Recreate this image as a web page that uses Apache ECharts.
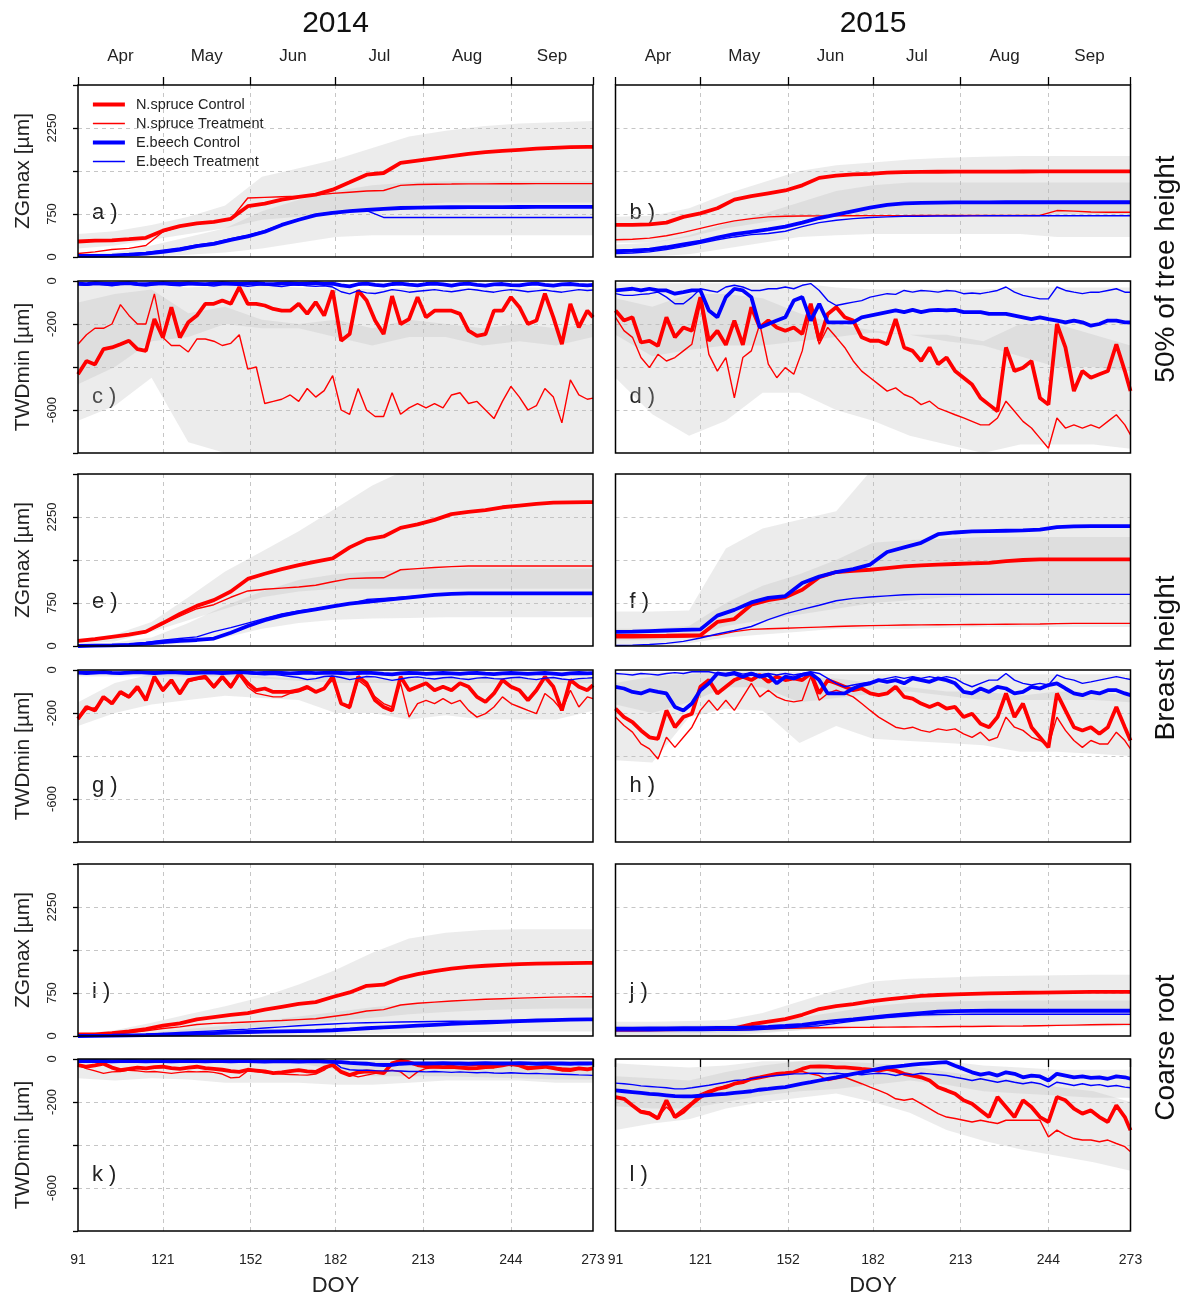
<!DOCTYPE html>
<html>
<head>
<meta charset="utf-8">
<script src="https://cdn.jsdelivr.net/npm/echarts@6/dist/echarts.min.js"></script>
<style>
  html, body { margin: 0; background: #fff; }
  #chart { width: 1187px; height: 1300px; }
</style>
</head>
<body>
<div id="chart"></div>
<script>
// ── x positions (day of year) ─────────────────────────────────────────────
const TWD_DAYS = [91,94,97,100,103,106,109,112,115,118,121,124,127,130,133,136,139,142,145,148,
  151,154,157,160,163,166,169,172,175,178,181,184,187,190,193,196,199,202,205,208,
  211,214,217,220,223,226,229,232,235,238,241,244,247,250,253,256,259,262,265,268,271,273];
const ZG_DAYS = [91,97,103,109,115,121,127,133,139,145,151,157,163,169,175,181,187,193,199,205,
  211,217,223,229,235,241,247,253,259,265,271,273];
const BAND_DAYS = [91,104,117,130,143,156,169,182,195,208,221,234,247,260,273];

const DOY_TICKS = [91, 121, 152, 182, 213, 244, 273];
const MONTHS = ['Apr', 'May', 'Jun', 'Jul', 'Aug', 'Sep'];
const MONTH_MID = [106, 136.5, 167, 197.5, 228.5, 258.5];
const ZG_LABELS = [0, 750, 2250];
const TWD_LABELS = [0, -200, -600];

const SERIES_NAMES = ['N.spruce Control', 'N.spruce Treatment', 'E.beech Control', 'E.beech Treatment'];
const YEARS = ['2014', '2015'];
const POSITIONS = ['50% of tree height', 'Breast height', 'Coarse root'];

// ── a) ZGmax 2014, 50% height ─────────────────────────────────────────────
const a_spruceC = [270,285,290,310,335,460,538,585,614,666,886,932,1002,1048,1088,1175,1303,1436,1465,1640,1680,1720,1760,1800,1830,1850,1870,1890,1905,1915,1920,1920];
const a_spruceT = [60,90,130,150,200,440,530,580,610,660,1030,1040,1050,1060,1080,1110,1130,1150,1160,1250,1265,1270,1272,1275,1276,1277,1278,1279,1280,1280,1280,1280];
const a_beechC = [20,20,25,40,60,90,130,190,230,300,360,440,560,650,730,770,800,820,840,855,862,866,868,870,870,871,872,873,874,875,875,875];
const a_beechT = [15,20,25,50,80,120,160,210,250,320,380,460,570,660,740,780,800,810,690,690,690,690,690,690,690,690,690,690,690,690,690,690];
const a_bandS_hi = [400,450,560,700,900,1400,1550,1700,1900,2100,2200,2280,2330,2350,2370];
const a_bandS_lo = [150,200,300,400,500,650,700,800,850,900,950,950,950,950,950];
const a_bandB_hi = [60,80,200,350,500,800,1000,1150,1250,1300,1320,1320,1320,1320,1320];
const a_bandB_lo = [0,0,10,40,80,150,250,350,380,380,380,380,380,380,380];

// ── b) ZGmax 2015, 50% height ─────────────────────────────────────────────
const b_spruceC = [560,560,570,600,700,760,850,1000,1060,1110,1160,1250,1380,1420,1440,1450,1470,1480,1485,1487,1488,1489,1490,1490,1491,1492,1493,1494,1495,1495,1495,1495];
const b_spruceT = [300,310,330,370,430,500,570,630,670,700,710,715,718,720,720,721,722,722,723,723,724,724,725,725,725,725,810,800,785,780,780,780];
const b_beechC = [100,110,130,170,220,270,340,400,440,480,530,600,680,740,800,860,910,935,945,950,952,953,954,955,955,955,955,955,955,955,955,955];
const b_beechT = [60,70,90,130,180,240,300,350,390,410,450,530,600,640,670,690,700,710,712,714,716,718,719,720,720,720,720,720,720,720,720,720];
const b_bandS_hi = [700,720,850,1100,1300,1500,1600,1650,1700,1730,1750,1760,1760,1760,1760];
const b_bandS_lo = [250,250,350,500,600,700,750,750,750,750,750,750,750,750,750];
const b_bandB_hi = [220,250,380,580,750,950,1150,1250,1300,1300,1300,1300,1300,1300,1300];
const b_bandB_lo = [0,10,50,150,250,350,380,400,400,400,400,400,350,350,350];

// ── c) TWDmin 2014, 50% height ────────────────────────────────────────────
const c_spruceC = [-434,-372,-388,-317,-309,-294,-278,-317,-325,-177,-263,-122,-263,-192,-161,-106,-106,-91,-106,-28,
  -106,-106,-114,-130,-138,-138,-106,-153,-98,-161,-44,-278,-247,-44,-91,-184,-247,-70,-200,-177,
  -75,-169,-138,-138,-138,-153,-231,-255,-247,-138,-138,-75,-122,-200,-184,-59,-169,-294,-106,-216,-138,-169];
const c_spruceT = [-294,-250,-220,-220,-200,-110,-160,-200,-200,-60,-263,-300,-300,-330,-270,-270,-280,-300,-290,-250,
  -410,-400,-570,-560,-550,-530,-560,-500,-540,-510,-440,-600,-620,-500,-600,-630,-630,-520,-620,-590,
  -570,-590,-570,-590,-530,-520,-570,-560,-600,-640,-560,-490,-540,-600,-580,-500,-540,-660,-460,-530,-550,-545];
const c_beechC = [-12,-15,-10,-12,-14,-11,-10,-13,-15,-12,-10,-12,-14,-11,-13,-15,-12,-10,-12,-14,
  -12,-10,-13,-15,-12,-11,-14,-12,-10,-13,-12,-20,-25,-15,-12,-18,-22,-14,-12,-17,
  -20,-14,-12,-16,-21,-15,-12,-18,-22,-16,-14,-19,-20,-15,-12,-18,-22,-16,-14,-18,-20,-18];
const c_beechT = [-18,-20,-15,-18,-22,-16,-14,-20,-24,-18,-15,-20,-22,-17,-15,-19,-23,-18,-16,-20,
  -25,-20,-18,-22,-26,-20,-18,-22,-25,-22,-28,-50,-60,-45,-55,-58,-50,-40,-45,-52,
  -48,-44,-40,-46,-50,-44,-38,-42,-48,-52,-45,-40,-44,-50,-46,-42,-48,-52,-46,-40,-44,-42];
const c_bandS_hi = [-100,-60,-40,-150,-120,-180,-200,-180,-220,-180,-200,-220,-200,-220,-200];
const c_bandS_lo = [-650,-580,-450,-750,-800,-800,-800,-800,-800,-800,-800,-800,-800,-800,-800];
const c_bandB_hi = [-20,-20,-20,-30,-20,-20,-30,-30,-40,-30,-30,-30,-30,-30,-30];
const c_bandB_lo = [-480,-400,-280,-260,-200,-220,-220,-260,-300,-260,-260,-300,-280,-300,-260];

// ── d) TWDmin 2015, 50% height ────────────────────────────────────────────
const d_spruceC = [-137,-184,-169,-286,-278,-302,-169,-262,-216,-231,-75,-278,-231,-297,-184,-297,-122,-216,-184,-216,
  -231,-216,-247,-106,-278,-153,-122,-169,-184,-262,-278,-278,-294,-177,-309,-325,-372,-309,-387,-356,
  -419,-450,-481,-544,-575,-606,-309,-419,-403,-372,-544,-575,-200,-309,-512,-419,-450,-434,-419,-294,-419,-512];
const d_spruceT = [-169,-231,-262,-356,-403,-341,-372,-356,-325,-294,-106,-341,-419,-356,-544,-356,-325,-200,-387,-450,
  -403,-434,-325,-137,-294,-216,-262,-309,-372,-419,-450,-481,-512,-497,-528,-544,-575,-559,-591,-606,
  -622,-637,-653,-669,-669,-637,-559,-606,-653,-684,-731,-778,-637,-684,-669,-684,-669,-684,-653,-622,-669,-716];
const d_beechC = [-44,-40,-36,-44,-36,-44,-44,-59,-52,-44,-44,-137,-169,-75,-36,-44,-75,-216,-200,-184,
  -169,-91,-75,-184,-106,-192,-192,-192,-192,-169,-161,-153,-145,-137,-145,-134,-145,-137,-134,-137,
  -134,-145,-145,-145,-153,-153,-153,-161,-169,-177,-169,-177,-184,-192,-184,-192,-208,-200,-184,-184,-192,-192];
const d_beechT = [-59,-67,-67,-62,-59,-52,-75,-106,-106,-75,-36,-44,-52,-28,-20,-28,-44,-44,-36,-36,
  -28,-36,-20,-12,-44,-91,-114,-106,-98,-91,-75,-67,-59,-62,-44,-52,-44,-47,-52,-44,
  -47,-59,-56,-59,-52,-44,-28,-52,-67,-75,-83,-83,-28,-44,-52,-59,-52,-52,-44,-36,-52,-52];
const d_bandS_hi = [-80,-120,-60,-60,-80,-150,-200,-230,-250,-250,-280,-200,-200,-250,-300];
const d_bandS_lo = [-450,-620,-720,-650,-520,-520,-600,-650,-720,-760,-800,-760,-760,-760,-780];
const d_bandB_hi = [-10,-10,-10,-10,-10,-10,-30,-40,-40,-40,-40,-30,-30,-30,-30];
const d_bandB_lo = [-250,-350,-320,-300,-300,-280,-260,-240,-250,-280,-300,-350,-400,-400,-420];

// ── e) ZGmax 2014, breast height ──────────────────────────────────────────
const e_spruceC = [90,120,160,200,250,400,560,700,800,950,1170,1260,1340,1410,1470,1530,1720,1860,1910,2060,2120,2200,2300,2340,2370,2420,2450,2480,2500,2505,2510,2510];
const e_spruceT = [80,110,150,190,240,380,520,650,720,850,960,990,1010,1030,1060,1120,1175,1185,1190,1330,1350,1370,1385,1395,1395,1395,1395,1395,1395,1395,1395,1395];
const e_beechC = [0,5,10,20,40,70,90,105,130,230,350,450,530,590,640,690,740,770,800,830,860,890,910,918,918,918,918,918,918,918,918,918];
const e_beechT = [0,5,15,30,60,100,130,160,250,320,400,480,560,610,650,700,740,810,830,850,870,890,905,915,915,915,915,915,915,915,915,915];
const e_bandS_hi = [120,200,420,850,1300,1650,2000,2400,2800,3100,3100,3100,3100,3100,3100];
const e_bandS_lo = [40,80,250,450,650,850,950,1000,1000,1000,1000,1000,1000,1000,1000];
const e_bandB_hi = [30,60,150,400,700,950,1150,1250,1300,1330,1350,1350,1350,1350,1350];
const e_bandB_lo = [0,0,10,50,150,300,400,460,480,490,500,500,500,500,500];

// ── f) ZGmax 2015, breast height ──────────────────────────────────────────
const f_spruceC = [175,175,178,180,183,186,420,470,720,800,850,980,1200,1290,1310,1330,1360,1390,1405,1420,1430,1440,1450,1480,1500,1510,1510,1510,1510,1510,1510,1510];
const f_spruceT = [145,145,148,150,155,165,190,250,290,300,310,320,330,340,350,355,360,365,368,370,372,375,377,380,382,385,390,395,395,395,395,395];
const f_beechC = [245,250,260,270,280,290,530,630,760,840,870,1100,1210,1290,1340,1420,1640,1720,1800,1950,1980,2000,2005,2010,2015,2030,2075,2085,2090,2090,2090,2090];
const f_beechT = [10,15,25,45,80,140,210,270,340,460,560,640,710,790,830,855,875,895,900,900,900,900,900,900,900,900,900,900,900,900,900,900];
const f_bandS_hi = [600,600,620,1700,2050,2200,2350,3100,3100,3100,3100,3100,3100,3100,3100];
const f_bandS_lo = [100,100,150,350,450,550,650,750,800,850,880,900,900,900,900];
const f_bandB_hi = [300,300,350,750,1050,1250,1500,1800,1850,1870,1900,1900,1900,1900,1900];
const f_bandB_lo = [0,0,50,150,200,250,300,300,300,320,330,330,330,330,330];

// ── g) TWDmin 2014, breast height ─────────────────────────────────────────
const g_spruceC = [-227,-172,-188,-125,-156,-102,-125,-78,-141,-31,-94,-47,-109,-47,-39,-31,-78,-31,-78,-16,
  -62,-94,-86,-102,-102,-102,-94,-78,-102,-86,-31,-156,-172,-31,-62,-141,-172,-188,-31,-94,
  -78,-62,-94,-78,-94,-62,-78,-125,-148,-109,-47,-78,-94,-141,-94,-31,-78,-188,-47,-78,-94,-70];
const g_spruceT = [-230,-185,-175,-135,-150,-110,-130,-90,-135,-40,-100,-55,-115,-55,-45,-40,-85,-40,-85,-25,
  -80,-109,-117,-125,-125,-109,-102,-86,-102,-86,-47,-156,-180,-47,-78,-125,-156,-172,-62,-219,
  -156,-141,-156,-133,-156,-141,-188,-219,-203,-172,-125,-156,-172,-188,-203,-109,-141,-188,-94,-172,-125,-133];
const g_beechC = [-12,-14,-12,-10,-13,-15,-12,-10,-12,-14,-12,-10,-12,-14,-13,-11,-12,-14,-12,-10,
  -12,-15,-13,-12,-14,-16,-14,-12,-15,-13,-12,-14,-16,-14,-12,-15,-18,-20,-16,-14,
  -15,-18,-16,-14,-16,-18,-15,-14,-17,-19,-16,-14,-16,-18,-16,-14,-17,-20,-16,-14,-16,-15];
const g_beechT = [-14,-16,-14,-12,-15,-17,-14,-12,-14,-16,-14,-12,-14,-16,-15,-13,-14,-16,-14,-12,
  -15,-20,-22,-20,-25,-30,-35,-45,-40,-30,-28,-35,-45,-38,-30,-32,-40,-48,-42,-35,
  -32,-38,-42,-36,-34,-40,-44,-38,-35,-40,-42,-36,-34,-40,-45,-38,-35,-42,-46,-40,-38,-36];
const g_bandS_hi = [-150,-60,-20,-20,-10,-30,-40,-20,-40,-40,-40,-30,-40,-40,-40];
const g_bandS_lo = [-260,-200,-160,-140,-120,-130,-140,-200,-200,-230,-210,-230,-230,-230,-190];
const g_bandB_hi = [-5,-5,-5,-5,-5,-5,-5,-5,-5,-5,-5,-5,-5,-5,-5];
const g_bandB_lo = [-30,-30,-30,-30,-30,-40,-50,-60,-60,-60,-60,-60,-60,-60,-60];

// ── h) TWDmin 2015, breast height ─────────────────────────────────────────
const h_spruceC = [-180,-219,-242,-281,-313,-320,-188,-266,-219,-203,-78,-47,-109,-78,-47,-31,-47,-23,-55,-31,
  -47,-39,-47,-16,-109,-47,-62,-78,-94,-86,-109,-117,-109,-78,-125,-133,-156,-172,-156,-180,
  -172,-219,-203,-250,-266,-219,-109,-219,-156,-266,-313,-360,-109,-188,-266,-281,-266,-297,-266,-172,-266,-328];
const h_spruceT = [-219,-258,-289,-344,-367,-414,-313,-360,-313,-266,-188,-141,-188,-141,-188,-125,-62,-125,-94,-125,
  -141,-148,-141,-31,-141,-109,-94,-109,-125,-156,-188,-219,-242,-266,-274,-266,-281,-289,-274,-281,
  -274,-297,-313,-289,-328,-313,-219,-266,-281,-313,-328,-352,-219,-281,-328,-360,-328,-344,-344,-289,-328,-367];
const h_beechC = [-78,-86,-102,-109,-94,-102,-109,-172,-188,-156,-94,-62,-16,-23,-16,-31,-16,-31,-23,-62,
  -31,-39,-23,-16,-47,-109,-109,-109,-86,-70,-62,-47,-55,-47,-62,-39,-47,-55,-39,-47,
  -62,-102,-109,-86,-102,-78,-86,-109,-102,-78,-86,-70,-62,-86,-109,-117,-102,-109,-94,-94,-109,-117];
const h_beechT = [-16,-19,-23,-16,-19,-23,-16,-12,-16,-8,-8,-8,-16,-16,-8,-19,-12,-23,-16,-23,
  -16,-23,-16,-8,-16,-39,-62,-78,-70,-62,-55,-47,-39,-31,-39,-31,-39,-31,-39,-31,
  -39,-62,-78,-62,-47,-47,-16,-47,-62,-70,-62,-70,-23,-39,-47,-62,-55,-47,-39,-31,-39,-44];
const h_bandS_hi = [-60,-30,-20,-10,-10,-30,-40,-60,-80,-100,-100,-120,-100,-100,-120];
const h_bandS_lo = [-420,-430,-220,-180,-190,-340,-260,-320,-330,-340,-350,-380,-380,-390,-400];
const h_bandB_hi = [-10,-10,-10,-5,-5,-10,-20,-20,-20,-20,-20,-20,-20,-20,-20];
const h_bandB_lo = [-160,-200,-150,-80,-80,-150,-130,-110,-100,-120,-140,-140,-140,-140,-150];

// ── i) ZGmax 2014, coarse root ────────────────────────────────────────────
const i_spruceC = [30,30,50,80,120,180,220,290,330,370,400,460,510,560,590,680,760,875,895,1010,1080,1130,1175,1205,1225,1240,1255,1262,1268,1272,1276,1276];
const i_spruceT = [15,20,35,55,90,130,160,200,220,230,245,260,270,285,300,340,380,435,460,540,570,590,610,625,640,650,660,670,678,682,684,684];
const i_beechC = [0,2,5,10,15,25,30,40,50,60,70,75,80,85,90,100,115,135,150,165,180,195,210,225,235,245,260,270,278,284,290,290];
const i_beechT = [0,5,10,20,30,45,60,75,90,105,120,140,160,180,195,210,225,232,238,243,248,252,256,260,265,270,275,280,284,287,290,290];
const i_bandS_hi = [30,100,230,380,520,680,900,1150,1450,1700,1800,1850,1860,1860,1860];
const i_bandS_lo = [0,10,40,80,120,160,200,260,320,380,420,450,470,480,480];
const i_bandB_hi = [10,20,60,120,180,260,340,420,500,560,600,620,640,650,650];
const i_bandB_lo = [0,0,0,0,0,10,20,30,40,50,60,70,80,80,80];

// ── j) ZGmax 2015, coarse root ────────────────────────────────────────────
const j_spruceC = [115,115,117,118,120,122,125,133,205,250,295,370,470,520,555,605,640,670,700,715,725,735,742,748,754,758,762,765,768,770,771,771];
const j_spruceT = [90,92,95,98,100,103,106,110,115,125,135,140,145,148,150,152,155,158,160,162,165,167,170,172,175,180,185,190,195,200,203,203];
const j_beechC = [130,130,132,134,136,138,140,142,148,160,175,195,235,265,290,320,350,375,400,425,435,438,440,440,440,440,440,440,440,440,440,440];
const j_beechT = [90,90,92,93,95,96,98,100,105,120,140,160,180,220,260,290,320,345,365,375,378,380,380,380,380,380,380,380,380,380,380,380];
const j_bandS_hi = [250,250,260,280,400,600,800,950,1000,1020,1040,1050,1060,1070,1070];
const j_bandS_lo = [0,0,0,10,50,100,200,280,320,350,360,370,370,370,370];
const j_bandB_hi = [180,180,185,190,230,320,420,520,580,600,610,620,620,620,620];
const j_bandB_lo = [50,50,50,60,80,100,120,150,160,170,170,170,170,170,170];

// ── k) TWDmin 2014, coarse root ───────────────────────────────────────────
const k_spruceC = [-28,-36,-30,-22,-40,-52,-46,-40,-44,-38,-36,-42,-46,-40,-36,-42,-46,-50,-56,-60,
  -50,-54,-58,-66,-62,-56,-52,-58,-60,-40,-28,-60,-75,-62,-58,-60,-66,-20,-8,-15,
  -28,-34,-36,-38,-36,-40,-44,-42,-38,-36,-30,-22,-30,-44,-40,-36,-42,-50,-52,-44,-48,-44];
const k_spruceT = [-28,-45,-55,-67,-60,-58,-52,-55,-60,-58,-62,-67,-62,-58,-60,-58,-62,-70,-88,-85,
  -55,-58,-64,-67,-70,-72,-74,-75,-70,-52,-22,-60,-72,-83,-75,-67,-60,-52,-60,-91,
  -60,-44,-40,-38,-36,-35,-32,-30,-28,-30,-28,-30,-32,-35,-36,-34,-38,-42,-44,-42,-44,-46];
const k_beechC = [-10,-10,-9,-10,-11,-10,-9,-10,-11,-10,-10,-11,-10,-9,-10,-11,-10,-10,-11,-10,
  -10,-11,-12,-11,-10,-11,-12,-11,-10,-12,-13,-15,-18,-20,-22,-26,-28,-27,-22,-20,
  -20,-21,-20,-19,-20,-21,-22,-20,-19,-20,-21,-20,-19,-20,-22,-21,-20,-21,-22,-20,-21,-20];
const k_beechT = [-5,-6,-5,-4,-5,-6,-5,-5,-6,-5,-5,-4,-5,-6,-5,-5,-6,-5,-4,-5,
  -6,-5,-5,-6,-5,-4,-5,-6,-5,-6,-10,-40,-50,-52,-52,-54,-55,-55,-56,-58,
  -58,-60,-58,-60,-62,-60,-62,-64,-62,-65,-66,-64,-66,-68,-67,-69,-70,-71,-72,-74,-75,-76];
const k_bandS_hi = [-5,-5,-5,-5,-5,-5,-5,-5,-5,-5,-5,-5,-5,-5,-5];
const k_bandS_lo = [-90,-100,-90,-95,-110,-110,-110,-120,-120,-110,-100,-100,-100,-110,-110];
const k_bandB_hi = [-2,-2,-2,-2,-2,-2,-2,-5,-10,-10,-10,-10,-10,-10,-10];
const k_bandB_lo = [-20,-20,-20,-20,-20,-20,-20,-50,-80,-80,-80,-85,-90,-95,-95];

// ── l) TWDmin 2015, coarse root ───────────────────────────────────────────
const l_spruceC = [-177,-185,-216,-246,-254,-277,-192,-270,-246,-208,-177,-154,-139,-131,-115,-108,-92,-85,-77,-69,
  -66,-62,-46,-35,-34,-35,-39,-39,-42,-46,-49,-54,-46,-54,-69,-77,-85,-100,-131,-146,
  -162,-192,-208,-239,-270,-177,-223,-270,-192,-223,-270,-293,-177,-192,-231,-254,-239,-270,-293,-216,-270,-331];
const l_spruceT = [-177,-185,-216,-239,-246,-270,-223,-262,-231,-200,-162,-146,-139,-123,-115,-100,-92,-85,-77,-73,
  -69,-62,-58,-69,-77,-100,-92,-85,-100,-115,-131,-146,-162,-185,-192,-185,-208,-231,-254,-270,
  -277,-285,-293,-285,-293,-300,-285,-285,-285,-285,-285,-362,-331,-354,-370,-377,-377,-385,-377,-393,-408,-431];
const l_beechC = [-146,-150,-154,-158,-162,-165,-169,-173,-174,-174,-171,-168,-165,-162,-158,-154,-150,-143,-139,-134,
  -131,-123,-115,-108,-100,-92,-85,-77,-69,-62,-54,-46,-39,-35,-31,-26,-23,-20,-17,-15,
  -31,-46,-62,-73,-66,-77,-62,-69,-85,-77,-81,-100,-69,-77,-85,-81,-88,-85,-92,-81,-85,-92];
const l_beechT = [-112,-115,-119,-125,-128,-131,-134,-139,-139,-134,-128,-122,-115,-108,-100,-97,-92,-85,-81,-77,
  -73,-69,-69,-66,-66,-69,-66,-69,-69,-73,-69,-66,-69,-77,-69,-73,-66,-69,-73,-77,
  -85,-92,-100,-92,-100,-108,-100,-108,-115,-108,-115,-131,-108,-115,-123,-115,-123,-119,-128,-123,-131,-134];
const l_bandS_hi = [-20,-30,-40,-30,-10,-10,-10,-20,-30,-60,-80,-100,-130,-150,-200];
const l_bandS_lo = [-330,-300,-280,-230,-200,-180,-160,-200,-250,-330,-380,-420,-450,-480,-520];
const l_bandB_hi = [-80,-90,-100,-60,-30,-10,-5,-5,-5,-10,-30,-40,-50,-50,-50];
const l_bandB_lo = [-220,-230,-230,-200,-170,-150,-140,-120,-100,-120,-150,-160,-170,-180,-180];

// ── panel list, in reading order (row by row, 2014 left, 2015 right) ─────
const PANELS = [
  { id: 'a', kind: 'zg',  lines: [a_spruceC, a_spruceT, a_beechC, a_beechT], bands: [[a_bandS_lo, a_bandS_hi], [a_bandB_lo, a_bandB_hi]] },
  { id: 'b', kind: 'zg',  lines: [b_spruceC, b_spruceT, b_beechC, b_beechT], bands: [[b_bandS_lo, b_bandS_hi], [b_bandB_lo, b_bandB_hi]] },
  { id: 'c', kind: 'twd', lines: [c_spruceC, c_spruceT, c_beechC, c_beechT], bands: [[c_bandS_lo, c_bandS_hi], [c_bandB_lo, c_bandB_hi]] },
  { id: 'd', kind: 'twd', lines: [d_spruceC, d_spruceT, d_beechC, d_beechT], bands: [[d_bandS_lo, d_bandS_hi], [d_bandB_lo, d_bandB_hi]] },
  { id: 'e', kind: 'zg',  lines: [e_spruceC, e_spruceT, e_beechC, e_beechT], bands: [[e_bandS_lo, e_bandS_hi], [e_bandB_lo, e_bandB_hi]] },
  { id: 'f', kind: 'zg',  lines: [f_spruceC, f_spruceT, f_beechC, f_beechT], bands: [[f_bandS_lo, f_bandS_hi], [f_bandB_lo, f_bandB_hi]] },
  { id: 'g', kind: 'twd', lines: [g_spruceC, g_spruceT, g_beechC, g_beechT], bands: [[g_bandS_lo, g_bandS_hi], [g_bandB_lo, g_bandB_hi]] },
  { id: 'h', kind: 'twd', lines: [h_spruceC, h_spruceT, h_beechC, h_beechT], bands: [[h_bandS_lo, h_bandS_hi], [h_bandB_lo, h_bandB_hi]] },
  { id: 'i', kind: 'zg',  lines: [i_spruceC, i_spruceT, i_beechC, i_beechT], bands: [[i_bandS_lo, i_bandS_hi], [i_bandB_lo, i_bandB_hi]] },
  { id: 'j', kind: 'zg',  lines: [j_spruceC, j_spruceT, j_beechC, j_beechT], bands: [[j_bandS_lo, j_bandS_hi], [j_bandB_lo, j_bandB_hi]] },
  { id: 'k', kind: 'twd', lines: [k_spruceC, k_spruceT, k_beechC, k_beechT], bands: [[k_bandS_lo, k_bandS_hi], [k_bandB_lo, k_bandB_hi]] },
  { id: 'l', kind: 'twd', lines: [l_spruceC, l_spruceT, l_beechC, l_beechT], bands: [[l_bandS_lo, l_bandS_hi], [l_bandB_lo, l_bandB_hi]] }
];

// ── layout & style ────────────────────────────────────────────────────────
const ROW_TOPS = [85, 281, 474, 670, 864, 1059];
const COL_LEFTS = [78, 615.5];
const PANEL_W = 515;
const PANEL_H = 172;
const FONT = '"Liberation Sans", Arial, sans-serif';
const LINE_COLORS = ['#ff0000', '#ff0000', '#0000ff', '#0000ff'];
const LINE_WIDTHS = [3.8, 1.4, 3.8, 1.4];
const BAND_COLOR = 'rgba(185,185,185,0.28)';
const GRID_LINE = { color: '#c6c6c6', type: [4, 4], width: 1 };

function pairs(xs, ys) {
  return ys.map((y, k) => [xs[k], y]);
}

const grids = [];
const xAxes = [];
const yAxes = [];
const series = [];
const graphics = [];

PANELS.forEach((p, i) => {
  const row = Math.floor(i / 2);
  const col = i % 2;
  const isZG = p.kind === 'zg';
  const bottomRow = row === 5;
  const leftCol = col === 0;

  grids.push({ left: COL_LEFTS[col], top: ROW_TOPS[row], width: PANEL_W, height: PANEL_H });

  xAxes.push({
    type: 'value', gridIndex: i, min: 91, max: 273,
    axisLine: { show: false },
    axisTick: { show: bottomRow, customValues: DOY_TICKS, length: 8, lineStyle: { color: '#000', width: 1.3 } },
    axisLabel: { show: bottomRow, customValues: DOY_TICKS, fontSize: 14, color: '#222', margin: 22, fontFamily: FONT },
    splitLine: { show: true, showMinLine: false, showMaxLine: false, lineStyle: GRID_LINE },
    name: bottomRow ? 'DOY' : '', nameLocation: 'middle', nameGap: 44,
    nameTextStyle: { fontSize: 22, color: '#222', fontFamily: FONT }
  });

  yAxes.push({
    type: 'value', gridIndex: i,
    min: isZG ? 0 : -800, max: isZG ? 3000 : 0, interval: isZG ? 750 : 200,
    axisLine: { show: false },
    axisTick: { show: leftCol, length: 5, lineStyle: { color: '#000', width: 1.3 } },
    axisLabel: {
      show: leftCol, customValues: isZG ? ZG_LABELS : TWD_LABELS,
      rotate: 90, fontSize: 13, color: '#222', margin: 19, fontFamily: FONT,
      formatter: v => String(v)
    },
    splitLine: { show: true, showMinLine: false, showMaxLine: false, lineStyle: GRID_LINE },
    name: leftCol ? (isZG ? 'ZGmax [\u00b5m]' : 'TWDmin [\u00b5m]') : '',
    nameLocation: 'middle', nameRotate: 90, nameGap: 44,
    nameTextStyle: { fontSize: 21, color: '#222', fontFamily: FONT }
  });

  // gray bands: invisible lower edge + stacked difference, filled.
  // rows are [value, doy] so that the stacked dimension is the y value.
  p.bands.forEach(([lo, hi], k) => {
    const stack = 'band' + i + '_' + k;
    series.push({
      type: 'line', xAxisIndex: i, yAxisIndex: i, stack, stackStrategy: 'all',
      encode: { x: 1, y: 0 },
      data: lo.map((v, n) => [v, BAND_DAYS[n]]), symbol: 'none', lineStyle: { opacity: 0 },
      silent: true, z: 1
    });
    series.push({
      type: 'line', xAxisIndex: i, yAxisIndex: i, stack, stackStrategy: 'all',
      encode: { x: 1, y: 0 },
      data: hi.map((h, n) => [h - lo[n], BAND_DAYS[n]]), symbol: 'none',
      lineStyle: { opacity: 0 }, areaStyle: { color: BAND_COLOR, opacity: 1 },
      silent: true, z: 1
    });
  });

  const days = isZG ? ZG_DAYS : TWD_DAYS;
  p.lines.forEach((vals, k) => {
    series.push({
      name: SERIES_NAMES[k], type: 'line', xAxisIndex: i, yAxisIndex: i,
      data: pairs(days, vals), symbol: 'none', silent: true, z: 3,
      lineStyle: { color: LINE_COLORS[k], width: LINE_WIDTHS[k] },
      itemStyle: { color: LINE_COLORS[k] }
    });
  });

  // panel frame drawn on top of everything
  graphics.push({
    type: 'rect', silent: true, z: 100,
    shape: { x: COL_LEFTS[col], y: ROW_TOPS[row], width: PANEL_W, height: PANEL_H },
    style: { fill: 'none', stroke: '#000', lineWidth: 1.5 }
  });

  graphics.push({
    type: 'text', x: COL_LEFTS[col] + 14, y: ROW_TOPS[row] + (isZG ? 128 : 116),
    style: { text: p.id + ' )', font: '22px ' + FONT, fill: '#222', verticalAlign: 'middle' }
  });
});

// month labels along the top of the first row
[0, 1].forEach(i => {
  xAxes.push({
    type: 'value', gridIndex: i, position: 'top', min: 91, max: 273,
    axisLine: { show: false },
    axisTick: { show: true, customValues: DOY_TICKS, length: 8, lineStyle: { color: '#000', width: 1.3 } },
    axisLabel: {
      customValues: MONTH_MID, margin: 20, fontSize: 17, color: '#222', fontFamily: FONT,
      formatter: v => MONTHS[MONTH_MID.indexOf(v)]
    },
    splitLine: { show: false }
  });
});

YEARS.forEach((yr, c) => {
  graphics.push({
    type: 'text', x: COL_LEFTS[c] + PANEL_W / 2, y: 24,
    style: { text: yr, font: '30px ' + FONT, fill: '#111', align: 'center', verticalAlign: 'middle' }
  });
});

POSITIONS.forEach((txt, r) => {
  const midY = (ROW_TOPS[r * 2] + PANEL_H + ROW_TOPS[r * 2 + 1]) / 2;
  graphics.push({
    type: 'text', x: 1166, y: midY, rotation: Math.PI / 2,
    style: { text: txt, font: '28px ' + FONT, fill: '#111', align: 'center', verticalAlign: 'middle' }
  });
});

const chart = echarts.init(document.getElementById('chart'), null, { renderer: 'canvas' });
chart.setOption({
  backgroundColor: '#fff',
  animation: false,
  grid: grids,
  xAxis: xAxes,
  yAxis: yAxes,
  legend: {
    left: 86, top: 92, orient: 'vertical', itemWidth: 32, itemHeight: 12, itemGap: 4,
    textStyle: { fontSize: 14.5, color: '#222', fontFamily: FONT, padding: [0, 0, 0, 6] },
    data: SERIES_NAMES.map((n, k) => ({
      name: n,
      lineStyle: { width: LINE_WIDTHS[k] },
      itemStyle: { opacity: 0, borderWidth: 0 }
    })),
    selectedMode: false
  },
  graphic: graphics,
  series
});
</script>
</body>
</html>
